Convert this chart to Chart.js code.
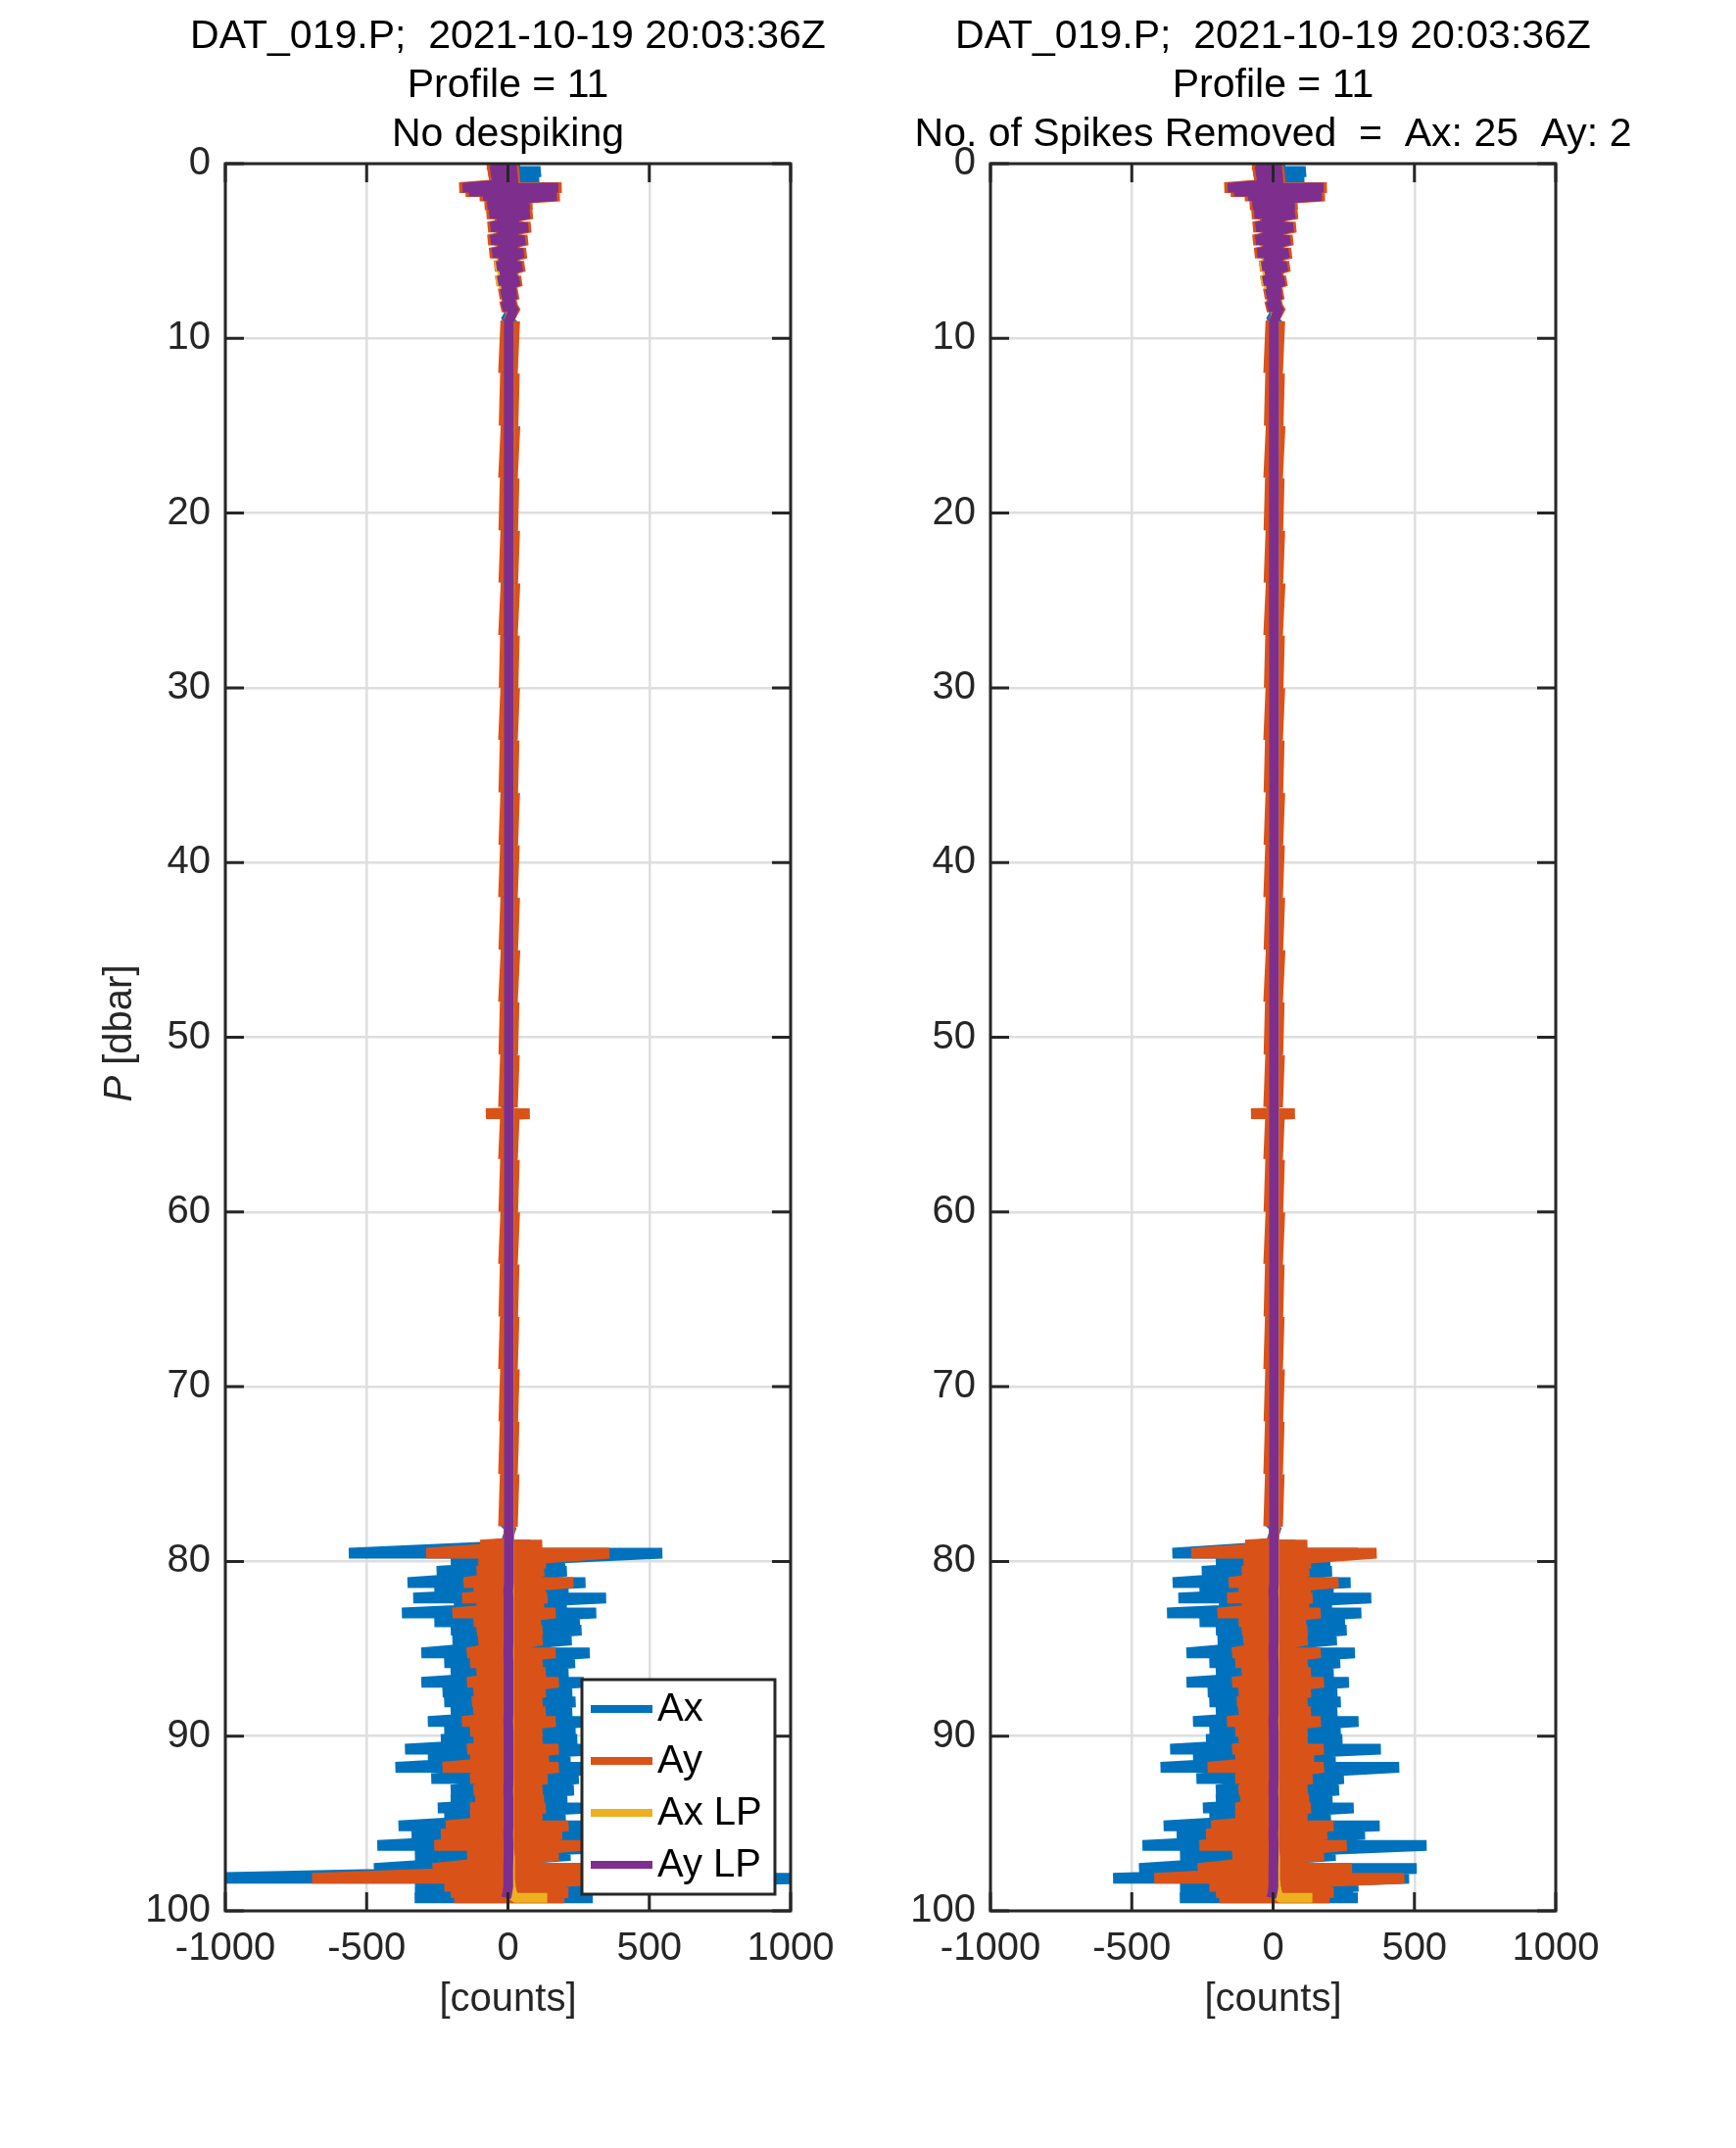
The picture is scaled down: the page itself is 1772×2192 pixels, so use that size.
<!DOCTYPE html>
<html>
<head>
<meta charset="utf-8">
<title>DAT_019.P profile 11</title>
<script src="https://cdn.jsdelivr.net/npm/chart.js@4.4.1/dist/chart.umd.min.js"></script>
<style>
  html, body { margin: 0; padding: 0; background: #fff; }
  body { width: 1772px; height: 2192px; overflow: hidden; position: relative; }
  canvas { position: absolute; top: 0; }
  #leftPanel { left: 0; }
  #rightPanel { left: 851px; }
</style>
</head>
<body>
<canvas id="leftPanel" width="1037" height="2192"></canvas>
<canvas id="rightPanel" width="897" height="2192"></canvas>
<script>
// tick labels
const xTicks = [-1000, -500, 0, 500, 1000];
const yTicks = [0, 10, 20, 30, 40, 50, 60, 70, 80, 90, 100];

// pressure levels [dbar] at which the envelope of each trace was read
const pressure = [
  // near-surface wobble
  0.05, 0.45, 0.9, 1.1, 1.38, 1.6, 1.85, 2.1, 2.35, 2.6, 2.87, 3.25, 3.63, 4.0, 4.37, 4.75, 5.12, 5.5, 5.87, 6.3, 6.71, 7.1, 7.46, 7.8, 8.2,
  // quiet descent
  9, 12, 15, 18, 21, 24, 27, 30, 33, 36, 39, 42, 45, 48, 51, 54, 54.33, 54.38, 54.43, 57, 60, 63, 66, 69, 72, 75, 78, 78.95,
  // noisy bottom
  79.06, 79.53, 80.09, 80.56, 81.21, 81.68, 82.09, 82.52, 82.95, 83.46, 83.93, 84.49, 85.23, 85.8, 86.36, 86.92, 87.48, 88.04, 88.6, 89.16,
  89.72, 90.19, 90.75, 91.22, 91.78, 92.43, 93.09, 93.65, 94.11, 94.58, 95.14, 95.61, 96.26, 96.83, 97.57, 98.13, 98.6, 98.95, 99.25
];

// Ax [counts], min / max at each level (raw, no despiking)
const axMin = [
  -45, -50, -45, -40, -120, -100, -70, -40, -60, -35, -55, -32, -50, -30, -50, -28, -45, -25, -32, -22, -28, -18, -20, -14, -15,
  -8, -7, -9, -6, -8, -7, -9, -8, -6, -7, -8, -7, -9, -7, -8, -7, -7, -10, -7, -7, -8, -6, -7, -6, -7, -6, -7, -7,
  -60, -563, -202, -252, -355, -260, -335, -191, -375, -260, -202, -196, -306, -225, -202, -306, -231, -225, -202, -283,
  -225, -237, -364, -283, -398, -271, -202, -202, -248, -225, -387, -341, -462, -329, -474, -1100, -329, -329, -330
];
const axMax = [
  40, 115, 110, 30, 130, 120, 120, 35, 60, 32, 60, 32, 55, 30, 50, 28, 45, 27, 40, 24, 32, 21, 24, 18, 20,
  14, 13, 15, 12, 14, 15, 13, 15, 12, 14, 13, 14, 15, 12, 13, 12, 13, 14, 13, 13, 14, 12, 11, 12, 11, 12, 12, 12,
  80, 546, 202, 208, 274, 214, 347, 208, 312, 254, 260, 225, 289, 237, 214, 268, 227, 239, 227, 302,
  239, 245, 381, 221, 446, 250, 233, 210, 285, 204, 377, 325, 543, 221, 508, 1100, 302, 283, 300
];

// Ay [counts]
const ayMin = [
  -75, -70, -65, -55, -172, -150, -100, -55, -82, -50, -75, -45, -70, -42, -70, -40, -64, -36, -46, -32, -40, -26, -29, -20, -22,
  1, 0, 2, 0, 1, 1, 0, 2, 0, 1, 1, 0, 1, 0, 1, 0, 0, -78, 0, 0, 1, 0, 1, 0, 1, 0, 0, 0,
  -98, -289, -104, -110, -156, -121, -162, -110, -196, -121, -110, -104, -144, -133, -110, -144, -121, -127, -121, -162,
  -133, -121, -144, -133, -231, -133, -121, -115, -133, -133, -219, -237, -260, -144, -266, -693, -225, -202, -190
];
const ayMax = [
  35, 38, 42, 35, 190, 180, 183, 45, 86, 45, 86, 45, 80, 42, 69, 40, 64, 38, 57, 34, 46, 30, 34, 26, 28,
  8, 7, 9, 6, 8, 9, 7, 8, 6, 8, 7, 8, 9, 6, 7, 6, 7, 77, 7, 7, 8, 6, 6, 7, 6, 6, 7, 7,
  121, 358, 133, 127, 231, 133, 139, 127, 168, 116, 121, 121, 168, 121, 133, 179, 133, 121, 133, 168,
  121, 121, 179, 144, 179, 139, 121, 127, 133, 121, 214, 191, 260, 179, 279, 464, 203, 214, 200
];

// low-passed traces
const axLpMin = [
  -35, -35, -30, -28, -90, -80, -55, -30, -45, -28, -42, -25, -40, -24, -40, -22, -45, -30, -44, -34, -40, -28, -22, -14, -12,
  5, 5, 6, 5, 5, 6, 5, 5, 4, 5, 4, 5, 5, 4, 4, 4, 4, 4, 4, 4, 4, 4, 3, 3, 3, 3, 3, 3,
  3, 3, 4, 3, 3, 4, 3, 3, 3, 4, 3, 3, 4, 3, 3, 3, 4, 3, 3, 3,
  4, 3, 3, 3, 4, 4, 3, 3, 4, 4, 4, 5, 5, 6, 6, 8, 10, 14, 23
];
const axLpMax = [
  20, 25, 28, 22, 110, 100, 90, 30, 50, 28, 50, 28, 45, 26, 42, 24, 38, 22, 35, 20, 28, 18, 20, 16, 16,
  5, 5, 6, 5, 5, 6, 5, 5, 4, 5, 4, 5, 5, 4, 4, 4, 4, 4, 4, 4, 4, 4, 3, 3, 3, 3, 3, 3,
  3, 3, 4, 3, 3, 4, 3, 3, 3, 4, 3, 3, 4, 3, 3, 3, 4, 3, 3, 3,
  4, 3, 3, 3, 4, 4, 3, 3, 4, 4, 4, 5, 5, 6, 6, 8, 10, 14, 139
];
const ayLpMin = [
  -62, -60, -55, -45, -160, -138, -88, -45, -72, -42, -65, -38, -60, -35, -60, -33, -54, -30, -38, -26, -33, -20, -22, -15, -16,
  4, 3, 4, 3, 4, 4, 3, 4, 3, 3, 3, 3, 4, 3, 3, 3, 3, 3, 3, 3, 3, 2, 2, 2, 2, 2, 2, 2,
  2, 2, 3, 2, 2, 1, 2, 2, 3, 2, 2, 2, 1, 2, 2, 3, 2, 2, 2, 1,
  2, 2, 2, 3, 2, 2, 1, 2, 2, 2, 2, 1, 2, 2, 1, 1, 1, -2, -6
];
const ayLpMax = [
  28, 30, 34, 28, 178, 168, 172, 38, 76, 38, 76, 38, 70, 35, 59, 33, 54, 31, 48, 28, 38, 24, 27, 20, 22,
  4, 3, 4, 3, 4, 4, 3, 4, 3, 3, 3, 3, 4, 3, 3, 3, 3, 3, 3, 3, 3, 2, 2, 2, 2, 2, 2, 2,
  2, 2, 3, 2, 2, 1, 2, 2, 3, 2, 2, 2, 1, 2, 2, 3, 2, 2, 2, 1,
  2, 2, 2, 3, 2, 2, 1, 2, 2, 2, 2, 1, 2, 2, 1, 1, 1, -2, -6
];

// levels where the despiked record differs from the raw one
const despikeLevels = [79.53, 98.13];
const axMinDespiked = [-356, -566];
const axMaxDespiked = [300, 481];
const ayMinDespiked = [-289, -420];
const ayMaxDespiked = [366, 464];

const FONT = "'Liberation Sans', Arial, Helvetica, sans-serif";
const AXIS_COLOR = '#262626';
const GRID_COLOR = 'rgb(222,222,222)';

Chart.defaults.font.family = FONT;
Chart.defaults.color = AXIS_COLOR;

function despike(values, fixes) {
  return values.map(function(v, i) {
    const k = despikeLevels.indexOf(pressure[i]);
    return k >= 0 ? fixes[k] : v;
  });
}

// trace the envelope as a zig-zag: min then max at every level
function zigzag(mins, maxs) {
  const pts = [];
  pressure.forEach(function(p, i) {
    pts.push({ x: mins[i], y: p });
    if (maxs[i] !== mins[i]) pts.push({ x: maxs[i], y: p });
  });
  return pts;
}

// box, inward ticks, y label and legend
const frame = {
  id: 'frame',
  afterDraw(chart, args, opts) {
    const ctx = chart.ctx;
    const a = chart.chartArea;
    const xs = chart.scales.x;
    const ys = chart.scales.y;
    const tl = 19;
    ctx.save();
    ctx.strokeStyle = AXIS_COLOR;
    ctx.lineWidth = 3;
    ctx.lineCap = 'butt';
    ctx.beginPath();
    xTicks.forEach(function(v) {
      const px = xs.getPixelForValue(v);
      ctx.moveTo(px, a.bottom); ctx.lineTo(px, a.bottom - tl);
      ctx.moveTo(px, a.top); ctx.lineTo(px, a.top + tl);
    });
    yTicks.forEach(function(v) {
      const py = ys.getPixelForValue(v);
      ctx.moveTo(a.left, py); ctx.lineTo(a.left + tl, py);
      ctx.moveTo(a.right, py); ctx.lineTo(a.right - tl, py);
    });
    ctx.stroke();
    ctx.strokeRect(a.left, a.top, a.right - a.left, a.bottom - a.top);

    if (opts.yLabel) {
      ctx.save();
      ctx.translate(123, (a.top + a.bottom) / 2 - 4);
      ctx.rotate(-Math.PI / 2);
      ctx.fillStyle = AXIS_COLOR;
      ctx.textBaseline = 'middle';
      ctx.textAlign = 'left';
      ctx.font = 'italic 40px ' + FONT;
      const w1 = ctx.measureText('P').width;
      ctx.font = '40px ' + FONT;
      const w2 = ctx.measureText(' [dbar]').width;
      const x0 = -(w1 + w2) / 2;
      ctx.font = 'italic 40px ' + FONT;
      ctx.fillText('P', x0, 0);
      ctx.font = '40px ' + FONT;
      ctx.fillText(' [dbar]', x0 + w1, 0);
      ctx.restore();
    }

    if (opts.legend) {
      const w = 197, h = 219;
      const left = a.right - 16 - w;
      const top = a.bottom - 17 - h;
      ctx.fillStyle = '#fff';
      ctx.fillRect(left, top, w, h);
      ctx.lineWidth = 3;
      ctx.strokeRect(left, top, w, h);
      ctx.font = '40px ' + FONT;
      ctx.textBaseline = 'middle';
      ctx.textAlign = 'left';
      chart.data.datasets.forEach(function(ds, i) {
        const y = top + 30 + i * 53;
        ctx.strokeStyle = ds.borderColor;
        ctx.lineWidth = 8;
        ctx.beginPath();
        ctx.moveTo(left + 9, y);
        ctx.lineTo(left + 72, y);
        ctx.stroke();
        ctx.fillStyle = '#000';
        ctx.fillText(ds.label, left + 77, y + 1);
      });
    }
    ctx.restore();
  }
};

function makePanel(id, titleLines, ax, ay, yw, showLegend, showYLabel) {
  const common = { showLine: true, pointRadius: 0, pointHitRadius: 0, tension: 0, clip: 0,
                   borderCapStyle: 'butt', borderJoinStyle: 'bevel', fill: false };
  // long steps through the quiet part are drawn as the thick band seen there
  const band = function(c) { return c.p1.parsed.y - c.p0.parsed.y >= 1.5 ? 20 : undefined; };
  const datasets = [
    Object.assign({ label: 'Ax', data: zigzag(ax.min, ax.max), borderColor: '#0072BD', borderWidth: 11, order: 3 }, common),
    Object.assign({ label: 'Ay', data: zigzag(ay.min, ay.max), borderColor: '#D95319', borderWidth: 11, order: 2,
      segment: { borderWidth: band } }, common),
    Object.assign({ label: 'Ax LP', data: zigzag(axLpMin, axLpMax), borderColor: '#EDB120', borderWidth: 10, order: 1 }, common),
    Object.assign({ label: 'Ay LP', data: zigzag(ayLpMin, ayLpMax), borderColor: '#7E2F8E', borderWidth: 10, order: 0 }, common)
  ];

  return new Chart(document.getElementById(id), {
    type: 'scatter',
    data: { datasets: datasets },
    plugins: [frame],
    options: {
      responsive: false,
      animation: false,
      events: [],
      layout: { padding: 0 },
      plugins: {
        legend: { display: false },
        tooltip: { enabled: false },
        title: {
          display: true,
          text: titleLines,
          color: '#000',
          font: { size: 41, weight: 'normal', lineHeight: 50 / 41 },
          padding: { top: 13, bottom: 4 }
        },
        frame: { legend: showLegend, yLabel: showYLabel }
      },
      scales: {
        x: {
          type: 'linear',
          min: -1000,
          max: 1000,
          afterBuildTicks: function(s) { s.ticks = xTicks.map(function(v) { return { value: v }; }); },
          afterFit: function(s) { s.height = 242; },
          grid: { color: GRID_COLOR, lineWidth: 2.5, drawTicks: false },
          border: { display: false },
          ticks: { font: { size: 40 }, color: AXIS_COLOR, padding: 15, maxRotation: 0, autoSkip: false,
                   callback: function(v) { return String(v); } },
          title: { display: true, text: '[counts]', color: AXIS_COLOR, font: { size: 40 }, padding: { top: 0, bottom: 127 } }
        },
        y: {
          type: 'linear',
          reverse: true,
          min: 0,
          max: 100,
          afterBuildTicks: function(s) { s.ticks = yTicks.map(function(v) { return { value: v }; }); },
          afterFit: function(s) { s.width = yw; },
          grid: { color: GRID_COLOR, lineWidth: 2.5, drawTicks: false },
          border: { display: false },
          ticks: { font: { size: 40 }, color: AXIS_COLOR, padding: 15, autoSkip: false,
                   callback: function(v) { return String(v); } }
        },
        // empty right-hand axis keeps the plot box centred under the title
        yPad: {
          type: 'linear',
          position: 'right',
          grid: { display: false },
          border: { display: false },
          ticks: { display: false },
          afterFit: function(s) { s.width = yw; }
        }
      }
    }
  });
}

makePanel('leftPanel',
  ['DAT_019.P;  2021-10-19 20:03:36Z', 'Profile = 11', 'No despiking'],
  { min: axMin, max: axMax },
  { min: ayMin, max: ayMax },
  230, true, true);

makePanel('rightPanel',
  ['DAT_019.P;  2021-10-19 20:03:36Z', 'Profile = 11', 'No. of Spikes Removed  =  Ax: 25  Ay: 2'],
  { min: despike(axMin, axMinDespiked), max: despike(axMax, axMaxDespiked) },
  { min: despike(ayMin, ayMinDespiked), max: despike(ayMax, ayMaxDespiked) },
  160, false, false);
</script>
</body>
</html>
